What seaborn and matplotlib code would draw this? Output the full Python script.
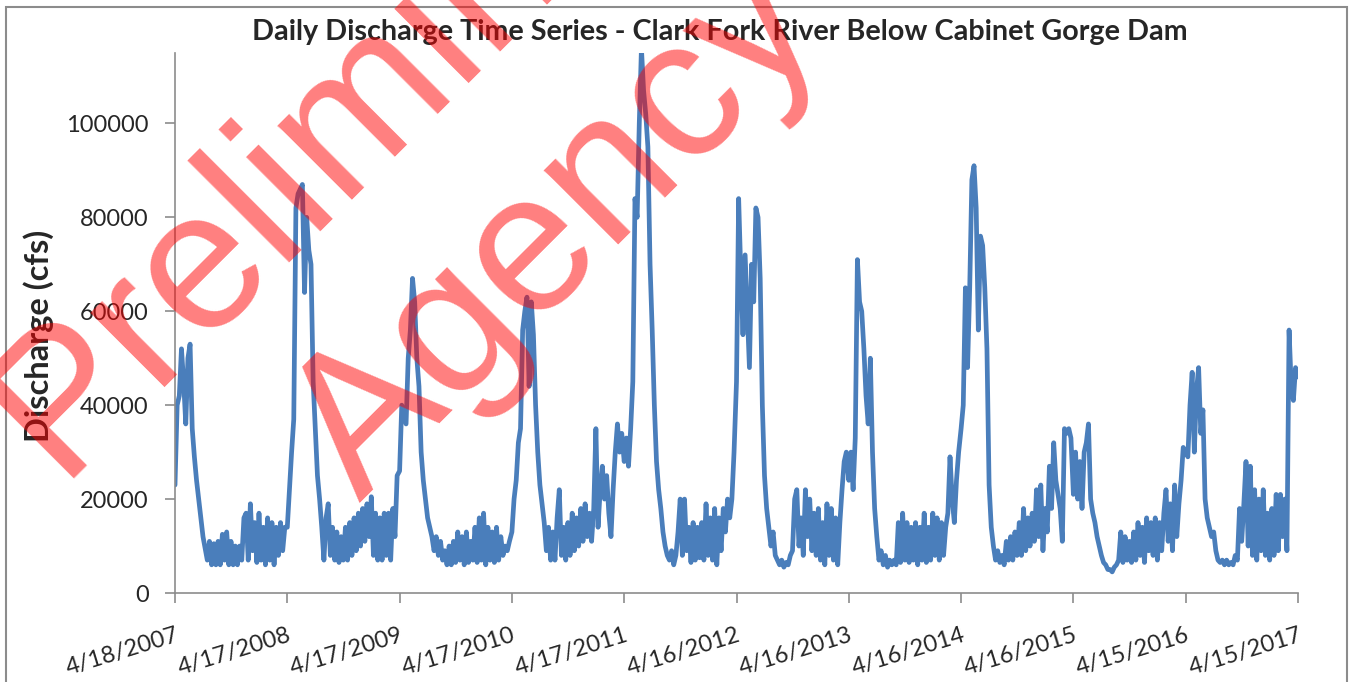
import numpy as np
import pandas as pd
import matplotlib
matplotlib.use('Agg')
import matplotlib.pyplot as plt
import matplotlib.dates as mdates
from matplotlib.patches import Rectangle
import seaborn as sns

# year tick labels (Excel category axis, one every 365 days)
tick_labels = ['4/18/2007', '4/17/2008', '4/17/2009', '4/17/2010', '4/17/2011',
               '4/16/2012', '4/16/2013', '4/16/2014', '4/16/2015', '4/15/2016',
               '4/15/2017']

# weekly discharge, thousands of cfs, one list per year from the tick date
q_2007 = [23, 40, 42, 52, 45, 36, 50, 53, 35, 29, 24, 20, 16, 12, 9.5, 7, 11, 6, 10.5, 6,
          11, 6, 12.5, 7, 13, 6, 11, 6, 10, 6, 10, 7, 16, 17, 7, 19, 9, 15, 6.5, 17,
          7, 14, 6, 16, 7, 15, 6, 14, 8, 15, 9, 14]
q_2008 = [14, 22, 30, 37, 82, 85, 86, 87, 64, 80, 73, 70, 45, 35, 25, 20, 14, 7, 16, 19,
          8, 14, 7, 13, 6.5, 12, 7, 14, 7, 15, 8, 16, 9, 17, 10, 18, 11, 19, 12, 20.5,
          8, 17, 7, 16, 7, 17, 8, 17, 7, 18, 12, 25]
q_2009 = [26, 40, 38, 36, 50, 56, 67, 62, 50, 44, 30, 24, 20, 16, 14, 12, 9, 12, 8, 11,
          7, 9, 6, 10, 6, 11, 6.5, 13, 7, 12, 6, 13, 6.5, 11, 7, 14, 6.5, 16, 7, 17,
          6, 14, 7, 13, 6.5, 14, 7, 12, 8, 10, 9, 11]
q_2010 = [13, 20, 24, 32, 35, 56, 60, 63, 44, 62, 55, 40, 30, 23, 19, 15, 9, 14, 7, 13,
          7, 16, 22, 8, 14, 7, 15, 8, 17, 9, 16, 10, 18, 11, 19, 12, 17, 11, 18, 35,
          14, 22, 27, 20, 25, 17, 12, 22, 30, 36, 30, 34]
q_2011 = [28, 33, 27, 35, 45, 84, 80, 100, 116, 107, 102, 95, 70, 56, 40, 28, 22, 18, 13, 10,
          8, 7, 9, 6, 8, 13, 20, 8, 20, 9, 14, 6.5, 15, 7, 14, 7.5, 15, 7, 19, 8,
          16, 7, 18, 6, 16, 9, 18, 13, 20, 16, 20, 30]
q_2012 = [45, 84, 68, 55, 72, 60, 48, 70, 62, 82, 80, 67, 40, 25, 18, 14, 10, 13, 8, 7,
          6, 7, 5.5, 6.5, 6, 8, 9, 20, 22, 10, 16, 8, 22, 12, 20, 9, 17, 8, 18, 7,
          15, 6, 19, 8, 18, 7, 16, 6, 15, 22, 28, 30]
q_2013 = [24, 30, 22, 33, 71, 62, 60, 52, 42, 36, 50, 30, 18, 12, 7, 9, 6, 8, 5.5, 7,
          6, 7, 6, 15, 6.5, 17, 7, 15, 6.5, 14, 7, 15, 6, 14, 7, 17, 6.5, 14, 7, 17,
          8, 16, 7, 15, 8, 14, 17, 29, 20, 15, 24, 30]
q_2014 = [35, 40, 65, 48, 65, 88, 91, 82, 56, 76, 74, 65, 52, 23, 14, 10, 7, 9, 6.5, 8,
          6, 11, 7, 12, 7, 13, 8, 15, 8, 18, 9, 16, 10, 17, 11, 22, 12, 23, 9, 18,
          13, 27, 18, 32, 24, 21, 18, 11, 35, 34, 35, 33]
q_2015 = [21, 30, 20, 28, 18, 30, 32, 36, 20, 17, 15, 12, 10, 8, 6.5, 6, 5, 5, 4.5, 5.5,
          6, 7, 13, 6.5, 12, 7, 11, 6.5, 13, 7, 15, 8, 14, 6.5, 16, 9, 15, 8, 16, 7,
          15, 9, 17, 22, 11, 19, 9, 23, 12, 19, 24, 31]
q_2016 = [30, 29, 40, 47, 30, 43, 48, 34, 39, 20, 16, 14, 12, 13, 9, 7, 6.5, 7, 6, 7,
          6, 6.5, 6, 8, 7, 18, 11, 19, 28, 10, 27, 8, 22, 7, 20, 9, 22, 8, 17, 7,
          18, 8, 21, 9, 21, 12, 20, 9, 56, 44, 41, 48]
q_last = 46

years = [q_2007, q_2008, q_2009, q_2010, q_2011, q_2012, q_2013, q_2014, q_2015, q_2016]
tick_dates = pd.to_datetime(tick_labels, format='%m/%d/%Y')

dates, flows = [], []
for start, q in zip(tick_dates[:-1], years):
    for k, v in enumerate(q):
        dates.append(start + pd.Timedelta(days=7 * k))
        flows.append(v * 1000)
dates.append(tick_dates[-1])
flows.append(q_last * 1000)
df = pd.DataFrame({'Date': dates, 'Discharge': flows})

sns.set_style('white')
plt.rcParams['font.family'] = ['Lato', 'DejaVu Sans']

W, H = 1349, 682
fig = plt.figure(figsize=(W / 100, H / 100), dpi=100)
ax = fig.add_axes([175 / W, 1 - 593 / H, (1298 - 175) / W, (593 - 53) / H])

sns.lineplot(data=df, x='Date', y='Discharge', ax=ax, color='#4A7EBB', linewidth=3.4)

ax.set_xlim(tick_dates[0], tick_dates[-1])
ax.set_ylim(0, 115000)
ax.set_yticks(np.arange(0, 100001, 20000))
ax.set_yticklabels([str(v) for v in range(0, 100001, 20000)], fontsize=17)
ax.set_xticks(mdates.date2num(tick_dates))
ax.set_xticklabels(tick_labels, rotation=17, ha='right', rotation_mode='anchor', fontsize=17)
ax.set_xlabel('')
ax.set_ylabel('')

for s in ['top', 'right']:
    ax.spines[s].set_visible(False)
for s in ['left', 'bottom']:
    ax.spines[s].set_color('#8c8c8c')
    ax.spines[s].set_linewidth(1.2)
ax.tick_params(axis='both', direction='out', length=7, width=1.2, color='#8c8c8c',
               bottom=True, left=True)
ax.tick_params(axis='y', pad=12)
ax.tick_params(axis='x', pad=16)

fig.text(720 / W, 1 - 32 / H, 'Daily Discharge Time Series - Clark Fork River Below Cabinet Gorge Dam',
         ha='center', va='center', fontsize=20.7, fontweight='bold')
fig.text(39 / W, 1 - 336 / H, 'Discharge (cfs)', rotation=90, ha='center', va='center',
         fontsize=23.5, fontweight='bold')

# chart area border
fig.patches.append(Rectangle((6 / W, -0.1), (1347 - 6) / W, 1.1 - 7 / H, transform=fig.transFigure,
                             fill=False, edgecolor='#8c8c8c', linewidth=1.5))

# watermark
fig.text(58 / W, 1 - 478 / H, 'Preliminary', rotation=45, rotation_mode='anchor',
         ha='left', va='baseline', fontsize=143, color='red', alpha=0.5,
         family='Liberation Sans', zorder=10)
fig.text(360 / W, 1 - 503 / H, 'Agency', rotation=45, rotation_mode='anchor',
         ha='left', va='baseline', fontsize=143, color='red', alpha=0.5,
         family='Liberation Sans', zorder=10)

fig.savefig('out.png', dpi=100)
